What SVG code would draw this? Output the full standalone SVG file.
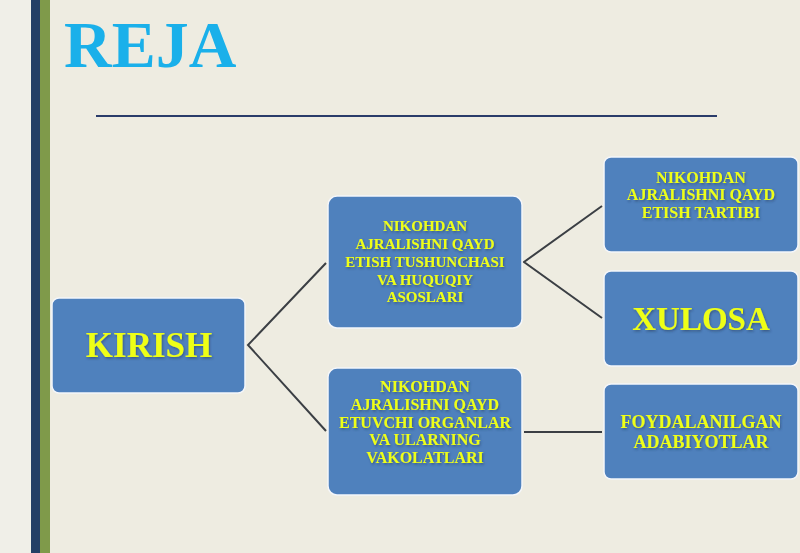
<svg xmlns="http://www.w3.org/2000/svg" width="800" height="553" viewBox="0 0 800 553">
<style>
.box{fill:#4f81bd;stroke:#f4f6fa;stroke-width:1.5}
.t{font-family:"Liberation Serif","Times New Roman",serif;font-weight:bold;fill:#eeff18;text-anchor:middle}
.s{font-size:15px}
.m{font-size:16px}
.big{font-size:35px}
.con{stroke:#3b3f44;stroke-width:2;fill:none}
</style>
<defs>
<filter id="sh" x="-10%" y="-10%" width="120%" height="130%">
<feDropShadow dx="1" dy="1.5" stdDeviation="1" flood-color="#1f3050" flood-opacity="0.5"/>
</filter>
</defs>
<rect x="0" y="0" width="800" height="553" fill="#eeece1"/>
<rect x="0" y="0" width="31" height="553" fill="#f0efe8"/>
<rect x="31" y="0" width="9" height="553" fill="#243f66"/>
<rect x="40" y="0" width="10" height="553" fill="#7f9a4a"/>
<text x="64" y="67" font-family="Liberation Serif, Times New Roman, serif" font-weight="bold" font-size="66" fill="#1ab0ea">REJA</text>
<line x1="96" y1="116" x2="717" y2="116" stroke="#2a3c6a" stroke-width="2"/>
<g id="connectors">
<polyline class="con" points="326,263 248,345 326,431"/>
<polyline class="con" points="602,206 524,262 602,318"/>
<line class="con" x1="524" y1="432" x2="602" y2="432"/>
</g>
<g id="kirish">
<rect class="box" x="52" y="298" width="193" height="95" rx="7"/>
<text class="t big" x="149" y="357" filter="url(#sh)">KIRISH</text>
</g>
<g id="tushunchasi">
<rect class="box" x="328" y="196" width="194" height="132" rx="9"/>
<text class="t s" filter="url(#sh)"><tspan x="425" y="231">NIKOHDAN</tspan><tspan x="425" y="249">AJRALISHNI QAYD</tspan><tspan x="425" y="267">ETISH TUSHUNCHASI</tspan><tspan x="425" y="285">VA HUQUQIY</tspan><tspan x="425" y="302">ASOSLARI</tspan></text>
</g>
<g id="organlar">
<rect class="box" x="328" y="368" width="194" height="127" rx="9"/>
<text class="t m" filter="url(#sh)"><tspan x="425" y="392">NIKOHDAN</tspan><tspan x="425" y="410">AJRALISHNI QAYD</tspan><tspan x="425" y="428">ETUVCHI ORGANLAR</tspan><tspan x="425" y="445">VA ULARNING</tspan><tspan x="425" y="463">VAKOLATLARI</tspan></text>
</g>
<g id="tartibi">
<rect class="box" x="604" y="157" width="194" height="95" rx="7"/>
<text class="t m" filter="url(#sh)"><tspan x="701" y="183">NIKOHDAN</tspan><tspan x="701" y="200">AJRALISHNI QAYD</tspan><tspan x="701" y="218">ETISH TARTIBI</tspan></text>
</g>
<g id="xulosa">
<rect class="box" x="604" y="271" width="194" height="95" rx="7"/>
<text class="t" font-size="33" x="701" y="330" filter="url(#sh)">XULOSA</text>
</g>
<g id="adabiyotlar">
<rect class="box" x="604" y="384" width="194" height="95" rx="7"/>
<text class="t" font-size="18" filter="url(#sh)"><tspan x="701" y="428">FOYDALANILGAN</tspan><tspan x="701" y="448">ADABIYOTLAR</tspan></text>
</g>
</svg>
